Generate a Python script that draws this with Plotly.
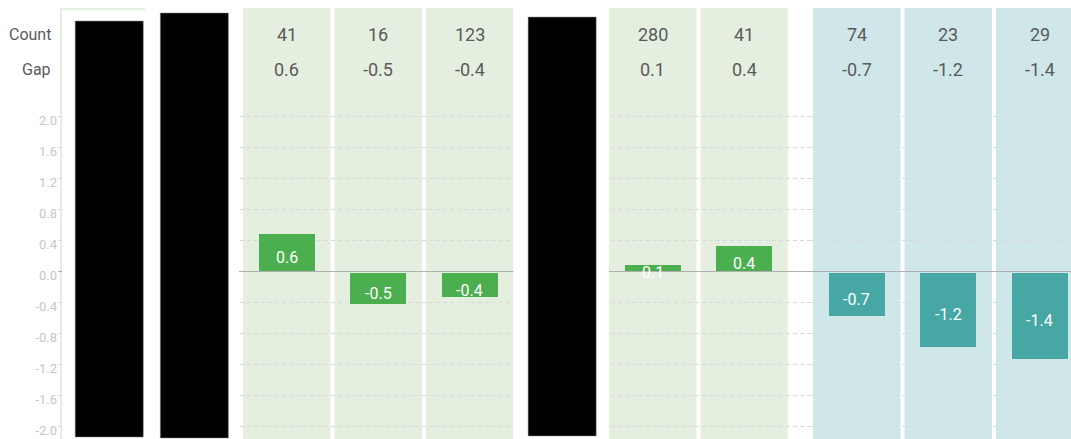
import plotly.graph_objects as go

# ---- data ----
left_columns = ["A", "B", "C", "D", "E", "F", "G", "H"]
left_counts = [None, None, 41, 16, 123, None, 280, 41]
left_gaps = [None, None, 0.6, -0.5, -0.4, None, 0.1, 0.4]
right_columns = ["I", "J", "K"]
right_counts = [74, 23, 29]
right_gaps = [-0.7, -1.2, -1.4]
redacted = [0, 1, 5]
y_ticks = [2.0, 1.6, 1.2, 0.8, 0.4, 0.0, -0.4, -0.8, -1.2, -1.6, -2.0]

# ---- style ----
W, H = 1071, 439
ML, MT = 58, 8
ZERO_PX = 271
GRID_PX_PER_UNIT = 77.5
BAR_PX_PER_UNIT = 61.5
NEG_GAP = 0.03
PANEL_GREEN = "#e4efe0"
PANEL_TEAL = "#cfe7e8"
BAR_GREEN = "#4caf4f"
BAR_TEAL = "#47a7a5"
TXT = "#5a5a5a"
FONT = "Roboto"

pw = W - ML
col_px = 91.5
split_px = 811
left_dom = [0, (split_px - ML) / pw]
left_range = [-0.5, -0.5 + (split_px - ML) / col_px]
right_dom = [(split_px - ML) / pw, 1]
right_range = [-0.5, -0.5 + (W - split_px) / col_px]

fig = go.Figure()

lx = list(range(len(left_columns)))
rx = list(range(len(right_columns)))


def bases(vals):
    return [None if v is None else (0 if v >= 0 else -NEG_GAP) for v in vals]


fig.add_trace(go.Bar(
    x=lx, y=left_gaps, base=bases(left_gaps), xaxis="x", yaxis="y",
    marker=dict(color=BAR_GREEN, line=dict(width=0)),
    width=0.61, hoverinfo="skip", showlegend=False,
))
fig.add_trace(go.Bar(
    x=rx, y=right_gaps, base=bases(right_gaps), xaxis="x2", yaxis="y",
    marker=dict(color=BAR_TEAL, line=dict(width=0)),
    width=0.61, hoverinfo="skip", showlegend=False,
))
# invisible carriers so the gridline / tick axes (y2, y3) are drawn
fig.add_trace(go.Scatter(
    x=[lx[0]] * len(y_ticks), y=y_ticks, xaxis="x", yaxis="y2", mode="markers",
    marker=dict(opacity=0), hoverinfo="skip", showlegend=False,
))
fig.add_trace(go.Scatter(
    x=[rx[0]] * len(y_ticks), y=y_ticks, xaxis="x2", yaxis="y3", mode="markers",
    marker=dict(opacity=0), hoverinfo="skip", showlegend=False,
))

shapes = []
annotations = []

# background panels
for i in lx:
    shapes.append(dict(type="rect", xref="x", yref="paper", x0=i - 0.478, x1=i + 0.478,
                       y0=0, y1=1, fillcolor=PANEL_GREEN, line=dict(width=0), layer="below"))
for i in rx:
    shapes.append(dict(type="rect", xref="x2", yref="paper", x0=i - 0.478, x1=i + 0.478,
                       y0=0, y1=1, fillcolor=PANEL_TEAL, line=dict(width=0), layer="below"))

# redaction covers (white) and boxes (black)
shapes.append(dict(type="rect", xref="x", yref="paper", x0=-0.456, x1=1.478,
                   y0=-0.01, y1=0.995, fillcolor="white", line=dict(width=0), layer="above"))
shapes.append(dict(type="rect", xref="x", yref="paper", x0=0.45, x1=1.478,
                   y0=-0.01, y1=1.03, fillcolor="white", line=dict(width=0), layer="above"))
shapes.append(dict(type="rect", xref="x", yref="paper", x0=4.478, x1=5.522,
                   y0=-0.01, y1=1.03, fillcolor="white", line=dict(width=0), layer="above"))
box_off = {0: (0.06, 0.9698, 0.0046), 1: (-0.01, 0.9884, 0.0023), 5: (0.01, 0.979, 0.007)}
for i in redacted:
    off, top, bot = box_off[i]
    shapes.append(dict(type="rect", xref="x", yref="paper", x0=i + off - 0.372, x1=i + off + 0.372,
                       y0=bot, y1=top, fillcolor="black", line=dict(color="#888", width=0.5),
                       layer="above"))


def yp(px):
    return 1 - (px - MT) / (H - MT)


for name, py in (("Count", 35), ("Gap", 69)):
    annotations.append(dict(text=name, xref="paper", yref="paper", x=0, y=yp(py),
                            xanchor="right", yanchor="middle", xshift=-5, showarrow=False,
                            font=dict(family=FONT, size=16, color=TXT)))


def add_col_text(xref, xs, counts, gaps):
    for x, c, g in zip(xs, counts, gaps):
        if c is None:
            continue
        annotations.append(dict(text=str(c), xref=xref, yref="paper", x=x, y=yp(35),
                                xanchor="center", yanchor="middle", showarrow=False,
                                font=dict(family=FONT, size=18, color=TXT)))
        annotations.append(dict(text=f"{g:.1f}", xref=xref, yref="paper", x=x, y=yp(69),
                                xanchor="center", yanchor="middle", showarrow=False,
                                font=dict(family=FONT, size=18, color=TXT)))
        b = 0 if g >= 0 else -NEG_GAP
        annotations.append(dict(text=f"{g:.1f}", xref=xref, yref="y", x=x, y=b + g / 2,
                                xanchor="center", yanchor="middle", yshift=-5, showarrow=False,
                                font=dict(family=FONT, size=16, color="white")))


add_col_text("x", lx, left_counts, left_gaps)
add_col_text("x2", rx, right_counts, right_gaps)

bar_range = [-(H - ZERO_PX) / BAR_PX_PER_UNIT, (ZERO_PX - MT) / BAR_PX_PER_UNIT]
grid_range = [-(H - ZERO_PX) / GRID_PX_PER_UNIT, (ZERO_PX - MT) / GRID_PX_PER_UNIT]

grid_common = dict(range=grid_range, overlaying="y", side="left",
                   tickvals=y_ticks, ticktext=[f"{v:.1f}" for v in y_ticks],
                   showgrid=True, gridcolor="#d9d9d9", griddash="4px,3px", gridwidth=1,
                   zeroline=True, zerolinecolor="#b0b0b0", zerolinewidth=1,
                   showline=False, ticks="", fixedrange=True)

fig.update_layout(
    width=W, height=H,
    margin=dict(l=ML, r=0, t=MT, b=0, pad=0),
    paper_bgcolor="white", plot_bgcolor="white",
    bargap=0, barmode="overlay",
    shapes=shapes, annotations=annotations,
    font=dict(family=FONT),
    xaxis=dict(domain=left_dom, range=left_range, showgrid=False, showticklabels=False,
               zeroline=False, showline=False, fixedrange=True),
    xaxis2=dict(domain=right_dom, range=right_range, showgrid=False, showticklabels=False,
                zeroline=False, showline=False, anchor="y", fixedrange=True),
    yaxis=dict(range=bar_range, showgrid=False, zeroline=False, showline=False,
               showticklabels=False, ticks="", fixedrange=True),
    yaxis2=dict(anchor="x", ticklabelshift=4,
                tickfont=dict(family=FONT, size=13, color="#c6c6c6"), **grid_common),
    yaxis3=dict(anchor="x2", showticklabels=False, **grid_common),
)

fig.write_html("out.html", config={"displayModeBar": False})
